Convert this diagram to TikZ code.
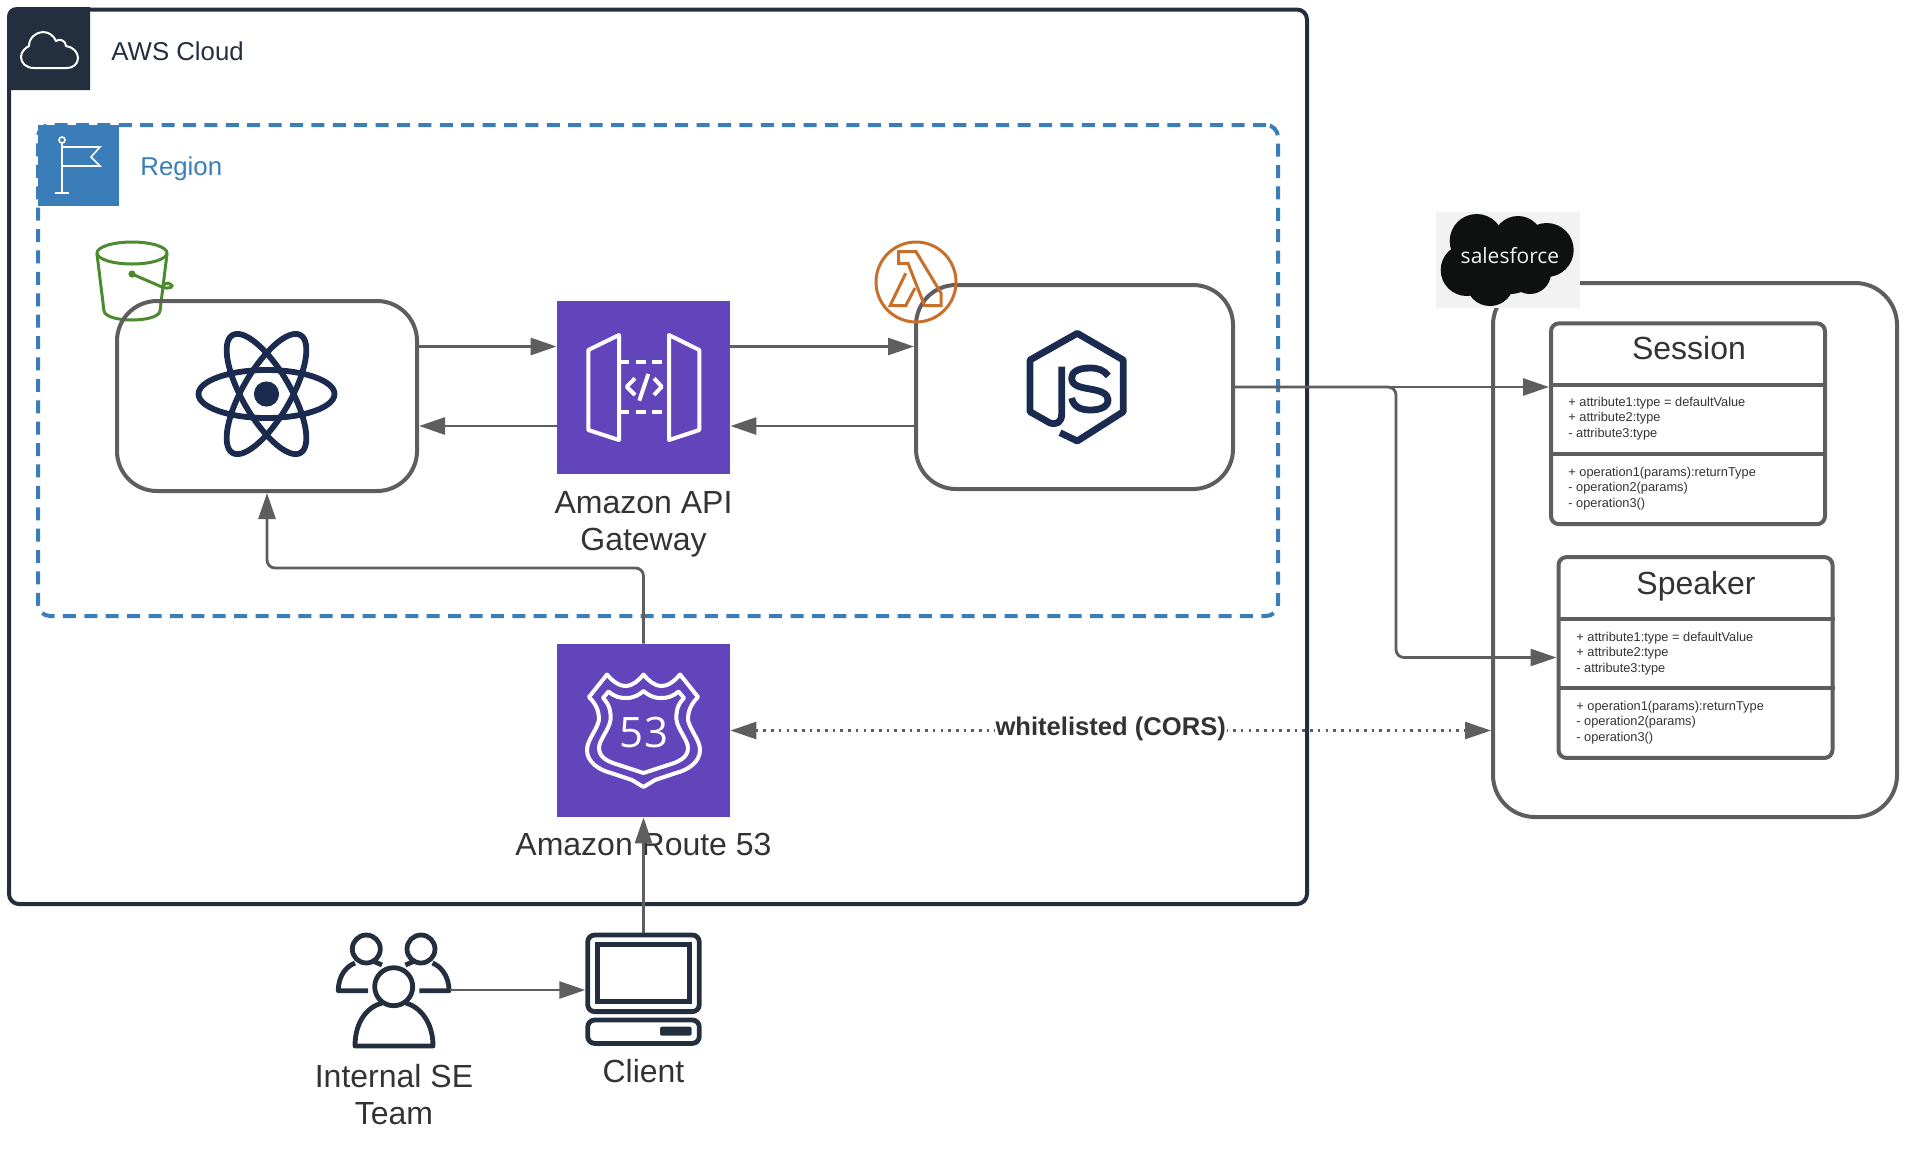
\documentclass[tikz,border=0pt]{standalone}
\usepackage{fontspec}
\setmainfont{Liberation Sans}
\newfontfamily\logofont{Open Sans}
\usetikzlibrary{arrows.meta}

\definecolor{awsdark}{HTML}{232F3E}
\definecolor{regionblue}{HTML}{3A7DB8}
\definecolor{awspurple}{HTML}{6244BB}
\definecolor{linegray}{HTML}{5E5E5E}
\definecolor{textgray}{HTML}{333333}
\definecolor{logonavy}{HTML}{1A2B4F}
\definecolor{bucketgreen}{HTML}{4B8A2E}
\definecolor{lambdaorange}{HTML}{C96F2C}
\definecolor{logoback}{HTML}{F2F2F2}
\definecolor{logoblack}{HTML}{0F1010}

\tikzset{
  softbox/.style={draw=linegray, line width=2pt, rounded corners=20pt},
  umlbox/.style={draw=linegray, line width=2pt, rounded corners=4pt, minimum width=137pt, minimum height=100.4pt},
  umlline/.style={linegray, line width=2pt},
  umltext/.style={anchor=base west, align=left, inner sep=0pt, text=textgray, font=\fontsize{6.4pt}{7.75pt}\selectfont},
  umltitle/.style={anchor=base, inner sep=0pt, text=textgray, font=\fontsize{16pt}{18pt}\selectfont},
  conn/.style={linegray, line width=1.4pt, -{Triangle[length=13pt,width=8.5pt]}},
  awssquare/.style={fill=awspurple, minimum width=86.5pt, minimum height=86.5pt, inner sep=0pt},
  headsquare/.style={minimum width=40.5pt, minimum height=40.5pt, inner sep=0pt},
  biglabel/.style={anchor=base, align=center, inner sep=0pt, text=textgray, font=\fontsize{16pt}{18.5pt}\selectfont},
  headlabel/.style={anchor=base west, inner sep=0pt, font=\fontsize{12.9pt}{15pt}\selectfont},
  iconline/.style={awsdark, line width=2.4pt, line join=round},
  whiteline/.style={white, line width=2pt, line join=round},
  jsline/.style={logonavy, line width=3.4pt, line join=round},
  cloudlobe/.style={fill=logoblack}
}

\begin{document}
\begin{tikzpicture}[x=0.5pt,y=-0.5pt]
\useasboundingbox (0,0) rectangle (1908,1148);

\node[draw=awsdark, line width=2pt, rounded corners=5pt, minimum width=649pt, minimum height=447.25pt] (awscloud) at (658,456.75) {};
\fill[awsdark] (7,90) -- (7,17) .. controls (7,11) and (11,7) .. (17,7) -- (90,7) -- (90,90) -- cycle;
\node[headlabel, text=awsdark] (awstitle) at (111,60) {AWS Cloud};
\draw[white, line width=1pt] (34,68) .. controls (26,68) and (21,63) .. (21,57) .. controls (21,52) and (25,48) .. (29,46) .. controls (29,38) and (36,32) .. (43,32) .. controls (49,32) and (54,36) .. (56,41) .. controls (60,38) and (66,41) .. (66,46) .. controls (73,47) and (78,52) .. (78,58) .. controls (78,64) and (73,68) .. (67,68) -- cycle;

\node[draw=regionblue, line width=2pt, dash pattern=on 6.5pt off 4.2pt, rounded corners=6pt, minimum width=620pt, minimum height=245.5pt] (region) at (658,370.5) {};
\node[headsquare, fill=regionblue] (regionhead) at (78.5,165.5) {};
\node[headlabel, text=regionblue] (regiontitle) at (140,175) {Region};
\draw[white, line width=0.8pt] (62,143) -- (62,193);
\draw[white, line width=0.8pt] (55,193) -- (69,193);
\draw[white, line width=0.8pt] (62,140) circle (1.5pt);
\draw[white, line width=0.8pt] (62,147) -- (100,147) -- (91,157) -- (100,166) -- (62,166);

\draw[bucketgreen, line width=1.5pt] (132,253) ellipse [x radius=17.5pt, y radius=5.5pt];
\draw[bucketgreen, line width=1.5pt] (97,254) -- (104,311) .. controls (106,323) and (158,323) .. (160,311) -- (167,254);
\fill[bucketgreen] (132,274) circle (1.8pt);
\draw[bucketgreen, line width=1.5pt] (132,274) -- (162,287) .. controls (170,290) and (175,286) .. (170,284) .. controls (167,282) and (164,284) .. (162,287);

\node[softbox, minimum width=150pt, minimum height=95pt] (react) at (267,396) {};
\foreach \ang in {0,60,120} {
  \draw[logonavy, line width=2.9pt, rotate around={\ang:(266.5,394)}] (266.5,394) ellipse [x radius=34pt, y radius=12pt];
}
\fill[logonavy] (266.5,394) circle (6.3pt);

\node[awssquare] (apigw) at (643.5,387) {};
\draw[whiteline] (588.3,350) -- (619,335) -- (619,440) -- (588.3,430) -- cycle;
\draw[whiteline] (699.3,350) -- (669,335) -- (669,440) -- (699.3,430) -- cycle;
\draw[whiteline, dash pattern=on 5pt off 3.3pt] (619,361.7) -- (669,361.7);
\draw[whiteline, dash pattern=on 5pt off 3.3pt] (619,412.3) -- (669,412.3);
\draw[whiteline] (635,378.3) -- (626.7,386.7) -- (635,395);
\draw[whiteline] (654,378.3) -- (661.7,386.7) -- (654,395);
\draw[whiteline] (648.3,374) -- (639.3,400.7);
\node[biglabel] (apigwlabel) at (643.5,550) {Amazon API\\Gateway};

\node[softbox, minimum width=158.5pt, minimum height=102pt] (nodejs) at (1074.5,387) {};
\draw[lambdaorange, line width=1.5pt] (916,282) circle (20pt);
\draw[lambdaorange, line width=1.5pt] (898.7,251.7) -- (916,251.7) -- (941,293) -- (941,305.7) -- (924.6,305.7) -- (908,263.3) -- (898.7,263.3) -- cycle;
\draw[lambdaorange, line width=1.5pt] (905.7,273.3) -- (890,305.7) -- (905.7,305.7) -- (915,288);
\draw[jsline] (1060,432.7) -- (1077.3,441) -- (1123.3,411.7) -- (1123.3,360) -- (1077.3,333.3) -- (1030,360) -- (1030,411.7) -- (1050,423) .. controls (1057,425) and (1061.7,422) .. (1061.7,414) -- (1061.7,366.7);
\draw[jsline] (1108.3,376) .. controls (1104,370) and (1098,368) .. (1090,368) .. controls (1078,368) and (1071.7,372) .. (1071.7,378) .. controls (1071.7,385) and (1078,387) .. (1090,389) .. controls (1102,391) and (1108,394) .. (1108,400) .. controls (1108,407) and (1100,410) .. (1090,410) .. controls (1080,410) and (1073,406) .. (1071.7,398);

\node[softbox, rounded corners=21pt, minimum width=202pt, minimum height=267pt] (salesforce) at (1695,550) {};
\node[fill=logoback, minimum width=72pt, minimum height=48pt, inner sep=0pt] (sflogo) at (1508,260) {};
\fill[cloudlobe] (1476.7,241) circle (13.5pt);
\fill[cloudlobe] (1518,241) circle (12.5pt);
\fill[cloudlobe] (1546.7,250) circle (13.5pt);
\fill[cloudlobe] (1466.7,270) circle (13pt);
\fill[cloudlobe] (1490,282) circle (12pt);
\fill[cloudlobe] (1530,273) circle (10.5pt);
\fill[cloudlobe] (1510,262) circle (16pt);
\node[anchor=base, inner sep=0pt, text=logoback, font=\logofont\fontsize{10.5pt}{12pt}\selectfont] (sfname) at (1510,263) {salesforce};

\node[umlbox] (session) at (1688,423.75) {};
\draw[umlline] (session.west |- 0,385) -- (session.east |- 0,385);
\draw[umlline] (session.west |- 0,454) -- (session.east |- 0,454);
\node[umltitle] (sessiontitle) at (1689,359.4) {Session};
\node[umltext] (sessionattrs) at (1568,437) {+ attribute1:type = defaultValue\\+ attribute2:type\\- attribute3:type};
\node[umltext] (sessionops) at (1568,507) {+ operation1(params):returnType\\- operation2(params)\\- operation3()};

\node[umlbox] (speaker) at (1695.5,657.5) {};
\draw[umlline] (speaker.west |- 0,619.4) -- (speaker.east |- 0,619.4);
\draw[umlline] (speaker.west |- 0,688) -- (speaker.east |- 0,688);
\node[umltitle] (speakertitle) at (1696,594) {Speaker};
\node[umltext] (speakerattrs) at (1576,672) {+ attribute1:type = defaultValue\\+ attribute2:type\\- attribute3:type};
\node[umltext] (speakerops) at (1576,741) {+ operation1(params):returnType\\- operation2(params)\\- operation3()};

\node[awssquare] (route53) at (643.5,730.5) {};
\draw[whiteline] (607,674.5) .. controls (613,682) and (620,686) .. (625,686) .. controls (633,686) and (639,680) .. (643.5,674.5) .. controls (648,680) and (654,686) .. (662,686) .. controls (667,686) and (674,682) .. (680,674.5) -- (698,697) .. controls (690,705) and (688,712) .. (688,720) .. controls (690,730) and (700,740) .. (700,750) .. controls (700,762) and (688,770) .. (676,773) -- (655,780) -- (643.5,787) -- (632,780) -- (611,773) .. controls (599,770) and (587,762) .. (587,750) .. controls (587,740) and (597,730) .. (599,720) .. controls (599,712) and (597,705) .. (589,697) -- cycle;
\draw[whiteline] (608.5,691.5) .. controls (615,697) and (620,698) .. (626,698) .. controls (634,698) and (639,695) .. (643.5,691) .. controls (648,695) and (653,698) .. (661,698) .. controls (667,698) and (672,697) .. (678.5,691.5) -- (684,698) .. controls (677,705) and (676,712) .. (676.5,720) .. controls (678,730) and (688,740) .. (688,748) .. controls (688,758) and (678,762) .. (668,765) -- (643.5,773) -- (619,765) .. controls (609,762) and (599,758) .. (599,748) .. controls (599,740) and (609,730) .. (610.5,720) .. controls (611,712) and (610,705) .. (603,698) -- cycle;
\node[anchor=base, inner sep=0pt, text=white, font=\logofont\fontsize{21pt}{24pt}\selectfont] (routeshield) at (644,747) {53};
\node[biglabel] (route53label) at (643.5,855) {Amazon Route 53};

\node[minimum width=55.5pt, minimum height=58pt, inner sep=0pt] (users) at (393.7,988) {};
\draw[iconline] (366.3,949) circle (7pt);
\draw[iconline] (421,949) circle (7pt);
\draw[iconline] (393.7,986.7) circle (9.5pt);
\draw[iconline] (368,990.7) -- (338.3,990.7) .. controls (338.3,975) and (347,966) .. (355,963);
\draw[iconline] (373,961) -- (382,965);
\draw[iconline] (419.4,990.7) -- (449,990.7) .. controls (449,975) and (440,966) .. (432.5,963);
\draw[iconline] (414.4,961) -- (405.4,965);
\draw[iconline] (382,1003) .. controls (367,1007) and (355,1022) .. (355,1046) -- (433,1046) .. controls (433,1022) and (420,1007) .. (406,1003);
\node[biglabel] (userslabel) at (394,1124) {Internal SE\\Team};

\node[draw=awsdark, line width=2.4pt, rounded corners=3.5pt, minimum width=55.8pt, minimum height=38.3pt, inner sep=0pt] (client) at (643.5,973.3) {};
\node[draw=awsdark, line width=2.4pt, minimum width=46.3pt, minimum height=28.7pt, inner sep=0pt] (clientscreen) at (643.5,973) {};
\node[draw=awsdark, line width=2.4pt, rounded corners=3.5pt, minimum width=55.8pt, minimum height=11.7pt, inner sep=0pt] (clientbase) at (643.5,1031.7) {};
\node[fill=awsdark, rounded corners=1pt, minimum width=15.8pt, minimum height=4.5pt, inner sep=0pt] (clientslot) at (675.8,1031.2) {};
\node[biglabel] (clientlabel) at (643.5,1082.7) {Client};

\coordinate (upperlevel) at (0,346.5);
\coordinate (lowerlevel) at (0,426);
\coordinate (turnlevel) at (0,568);
\coordinate (branchline) at (1396,0);
\coordinate (userslevel) at (0,990);

\draw[conn] (react.east |- upperlevel) -- (apigw.west |- upperlevel);
\draw[conn] (apigw.west |- lowerlevel) -- (react.east |- lowerlevel);
\draw[conn] (apigw.east |- upperlevel) -- (nodejs.west |- upperlevel);
\draw[conn] (nodejs.west |- lowerlevel) -- (apigw.east |- lowerlevel);
\draw[conn, rounded corners=4pt] (route53.north) |- (react.south |- turnlevel) -- (react.south);
\draw[conn] (nodejs.east) -- (nodejs.east -| session.west);
\draw[conn, rounded corners=4pt] (nodejs.east) -| (branchline |- speaker.west) -- (speaker.west);
\draw[conn] (client.north) -- (route53.south);
\draw[conn] (users.east |- userslevel) -- (client.west |- userslevel);
\draw[conn, {Triangle[length=13pt,width=8.5pt]}-{Triangle[length=13pt,width=8.5pt]}, dash pattern=on 1.3pt off 2.55pt] (route53.east) -- (route53.east -| salesforce.west) node[midway, yshift=1pt, fill=white, inner sep=0.3pt, text=textgray, font=\bfseries\fontsize{12.8pt}{15pt}\selectfont] (corslabel) {whitelisted (CORS)};
\end{tikzpicture}
\end{document}
